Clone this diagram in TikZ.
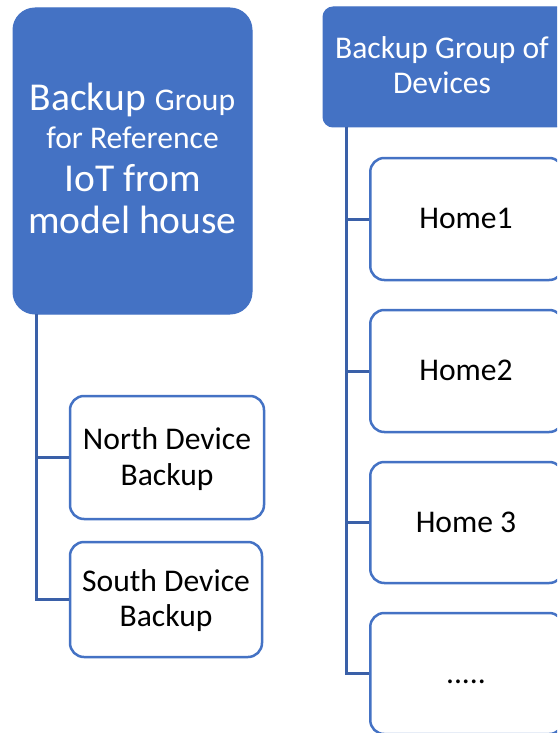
\documentclass[tikz,border=0pt]{standalone}
\usepackage{fontspec}
\setmainfont{Carlito}
\definecolor{accent}{HTML}{4472C4}
\definecolor{linkc}{HTML}{3A60A8}
\begin{document}
\begin{tikzpicture}[x=1pt,y=-1pt,
  bluebox/.style={draw=accent,fill=accent,line width=1pt,rounded corners=#1},
  bluebox/.default=20pt,
  whitebox/.style={draw=accent,fill=white,line width=2.5pt,rounded corners=14pt},
  link/.style={draw=linkc,line width=3pt},
  txtw/.style={text=white,anchor=base,inner sep=0pt},
  txtb/.style={text=black,anchor=base,inner sep=0pt},
  small/.style={font=\fontsize{31.6}{36}\selectfont},
  big/.style={font=\fontsize{39.5}{44}\selectfont}]
\useasboundingbox (0,0) rectangle (557,733);
\clip (0,0) rectangle (557,733);
% left branch
\path[bluebox=22pt] (13,8) rectangle (252,314);
\coordinate (lroot) at (36,314);
\node[txtw,small] (l1) at (132.5,111) {{\fontsize{39.5}{44}\selectfont Backup }Group};
\node[txtw,small] (l2) at (132.5,149) {for Reference};
\node[txtw,big] (l3) at (132.5,191) {IoT from};
\node[txtw,big] (l4) at (132.5,233) {model house};
\node[whitebox,minimum width=194pt,minimum height=123pt,inner sep=0pt] (north) at (167,457.5) {};
\node[whitebox,minimum width=192pt,minimum height=115pt,inner sep=0pt] (south) at (166,599.5) {};
\node[txtb,small] (n1) at (167,449) {North Device};
\node[txtb,small] (n2) at (167,485) {Backup};
\node[txtb,small] (s1) at (166,591) {South Device};
\node[txtb,small] (s2) at (166,626) {Backup};
\draw[link] (lroot) |- (north.west);
\draw[link] (lroot) |- (south.west);
% right branch
\path[bluebox=10pt] (323,7) rectangle (600,127);
\coordinate (rroot) at (346,127);
\node[txtw,small] (r1) at (442,59) {Backup Group of};
\node[txtw,small] (r2) at (442,94) {Devices};
\node[whitebox,minimum width=193pt,minimum height=122pt,inner sep=0pt,anchor=west] (h1) at (369,219) {};
\node[whitebox,minimum width=193pt,minimum height=122pt,inner sep=0pt,anchor=west] (h2) at (369,371) {};
\node[whitebox,minimum width=193pt,minimum height=121pt,inner sep=0pt,anchor=west] (h3) at (369,522.5) {};
\node[whitebox,minimum width=193pt,minimum height=121pt,inner sep=0pt,anchor=west] (h4) at (369,673.5) {};
\node[txtb,small] (t1) at (466,228) {Home1};
\node[txtb,small] (t2) at (466,380) {Home2};
\node[txtb,small] (t3) at (466,532) {Home 3};
\node[txtb,small] (t4) at (466,683) {.....};
\draw[link] (rroot) |- (h1.west);
\draw[link] (rroot) |- (h2.west);
\draw[link] (rroot) |- (h3.west);
\draw[link] (rroot) |- (h4.west);
\end{tikzpicture}
\end{document}
